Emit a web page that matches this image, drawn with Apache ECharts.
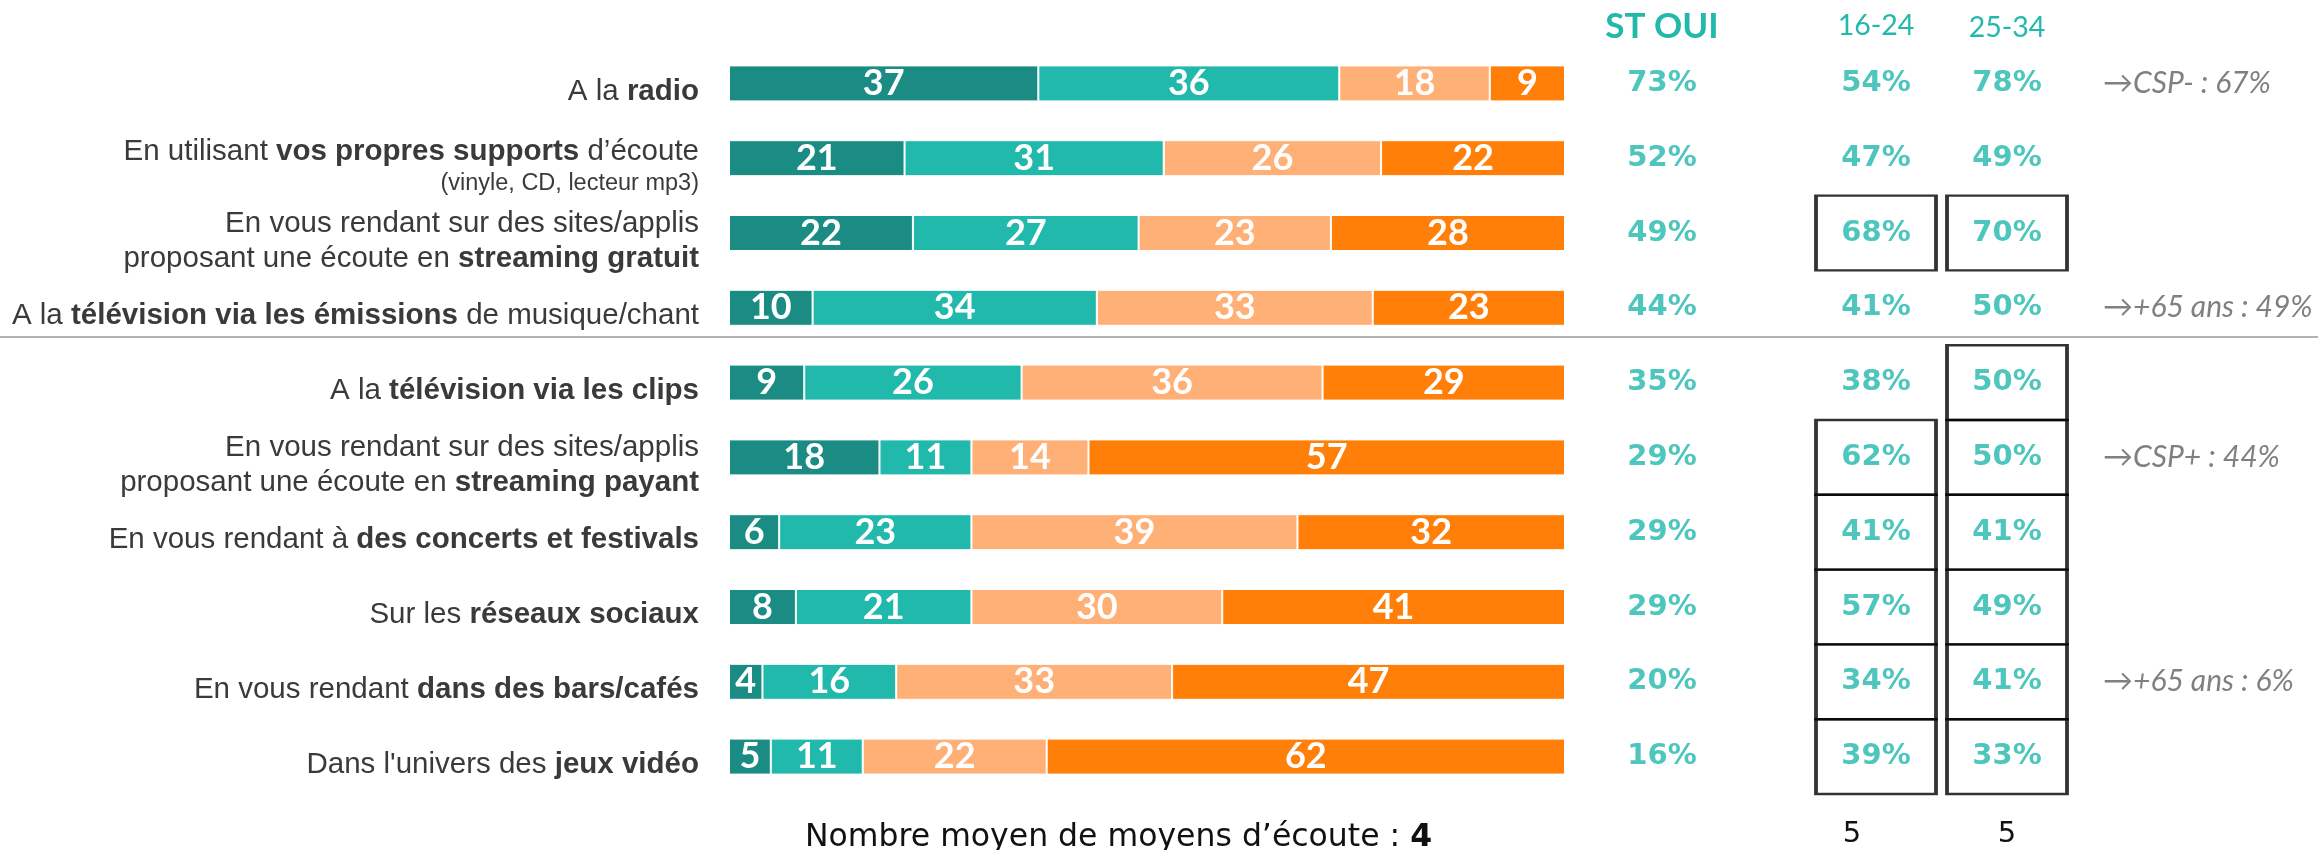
<!DOCTYPE html>
<html><head><meta charset="utf-8">
<script src="https://cdn.jsdelivr.net/npm/echarts@6/dist/echarts.min.js"></script>
<style>html,body{margin:0;padding:0;background:#fff}#c{width:2318px;height:850px}</style>
</head><body><div id="c"></div>
<script>
const categories = [
  'A la radio',
  'En utilisant vos propres supports d’écoute\n(vinyle, CD, lecteur mp3)',
  'En vous rendant sur des sites/applis\nproposant une écoute en streaming gratuit',
  'A la télévision via les émissions de musique/chant',
  'A la télévision via les clips',
  'En vous rendant sur des sites/applis\nproposant une écoute en streaming payant',
  'En vous rendant à des concerts et festivals',
  'Sur les réseaux sociaux',
  'En vous rendant dans des bars/cafés',
  "Dans l'univers des jeux vidéo"
];
const boldParts = ['radio','vos propres supports','streaming gratuit','télévision via les émissions','télévision via les clips','streaming payant','des concerts et festivals','réseaux sociaux','dans des bars/cafés','jeux vidéo'];
const oftenValues     = [37,21,22,10, 9,18, 6, 8, 4, 5];
const sometimesValues = [36,31,27,34,26,11,23,21,16,11];
const rarelyValues    = [18,26,23,33,36,14,39,30,33,22];
const neverValues     = [ 9,22,28,23,29,57,32,41,47,62];
const stOui   = [73,52,49,44,35,29,29,29,20,16];
const age1624 = [54,47,68,41,38,62,41,57,34,39];
const age2534 = [78,49,70,50,50,50,41,49,41,33];
const boxed1624 = [0,0,1,0,0,1,1,1,1,1];
const boxed2534 = [0,0,1,0,1,1,1,1,1,1];
const notes = ['→CSP- : 67%','','','→+65 ans : 49%','','→CSP+ : 44%','','','→+65 ans : 6%',''];
const columnHeaders = ['ST OUI','16-24','25-34'];
const meanTotal = 4;
const mean1624 = 5;
const mean2534 = 5;

const TEAL = '#22b8ac';
const colors = ['#1a8c83','#22b9ad','#ffb077','#ff7f08'];
const GRID_TOP = 46, GRID_H = 748;

function richLabel(i){
  return categories[i].split('\n').map(line => {
    if (line.startsWith('(')) return '{s|' + line + '}';
    const b = boldParts[i];
    const k = line.indexOf(b);
    if (k < 0) return '{n|' + line + '}';
    let out = '';
    if (k > 0) out += '{n|' + line.slice(0, k) + '}';
    out += '{b|' + b + '}';
    const rest = line.slice(k + b.length);
    if (rest) out += '{n|' + rest + '}';
    return out;
  }).join('\n');
}

const barSeries = [oftenValues, sometimesValues, rarelyValues, neverValues].map((d, k) => ({
  type: 'bar', stack: 'total', xAxisIndex: 0, yAxisIndex: 0, barWidth: 36,
  data: d,
  itemStyle: {color: colors[k], borderColor: '#fff', borderWidth: 1},
  label: {show: true, position: 'inside', color: '#fff', fontFamily: 'Lato', fontWeight: 'bold', fontSize: 36},
  emphasis: {disabled: true}
}));

function colSeries(vals, boxed, xi) {
  return {
    type: 'scatter', xAxisIndex: xi, yAxisIndex: xi, symbol: 'rect', symbolSize: [120, 74.8],
    data: vals.map((v, i) => ({
      value: [0, i],
      itemStyle: {color: 'rgba(0,0,0,0)', borderColor: boxed && boxed[i] ? '#000' : 'rgba(0,0,0,0)', borderWidth: 3}
    })),
    label: {show: true, position: 'inside', formatter: p => vals[p.dataIndex] + '%', color: TEAL,
      fontFamily: 'DejaVu Sans', fontWeight: 'bold', fontSize: 29},
    emphasis: {disabled: true}, z: 3
  };
}

const hiddenAxis = {axisLine: {show: false}, axisTick: {show: false}, splitLine: {show: false}};

const option = {
  animation: false,
  backgroundColor: '#fff',
  title: {
    text: '{a|Nombre moyen de moyens d’écoute : }{b|' + meanTotal + '}',
    left: 800, top: 817,
    textStyle: {rich: {
      a: {fontFamily: 'DejaVu Sans', fontSize: 31.5, color: '#111', fontWeight: 'normal'},
      b: {fontFamily: 'DejaVu Sans', fontSize: 31.5, color: '#111', fontWeight: 'bold'}
    }}
  },
  graphic: [{type: 'line', shape: {x1: 0, y1: 337, x2: 2318, y2: 337}, style: {stroke: '#9a9a9a', lineWidth: 1.5}}],
  grid: [
    {left: 729, width: 836, top: GRID_TOP, height: GRID_H},
    {left: 1602, width: 120, top: GRID_TOP, height: GRID_H},
    {left: 1816, width: 120, top: GRID_TOP, height: GRID_H},
    {left: 1947, width: 120, top: GRID_TOP, height: GRID_H}
  ],
  xAxis: [
    {type: 'value', gridIndex: 0, min: 0, max: 100, show: false},
    Object.assign({type: 'category', gridIndex: 1, position: 'top', data: [columnHeaders[0]],
      axisLabel: {margin: 2, color: TEAL, fontFamily: 'Lato', fontWeight: 'bold', fontSize: 35}}, hiddenAxis),
    Object.assign({type: 'category', gridIndex: 2, position: 'top', data: [columnHeaders[1]],
      axisLabel: {margin: 6, color: TEAL, fontFamily: 'Lato', fontSize: 28.5}}, hiddenAxis),
    Object.assign({type: 'category', gridIndex: 3, position: 'top', data: [columnHeaders[2]],
      axisLabel: {margin: 4, color: TEAL, fontFamily: 'Lato', fontSize: 28.5}}, hiddenAxis),
    Object.assign({type: 'category', gridIndex: 2, position: 'bottom', data: [String(mean1624)],
      axisLabel: {margin: 26, color: '#111', fontFamily: 'DejaVu Sans', fontSize: 29, padding: [0, 48, 0, 0]}}, hiddenAxis),
    Object.assign({type: 'category', gridIndex: 3, position: 'bottom', data: [String(mean2534)],
      axisLabel: {margin: 26, color: '#111', fontFamily: 'DejaVu Sans', fontSize: 29}}, hiddenAxis)
  ],
  yAxis: [
    Object.assign({type: 'category', gridIndex: 0, inverse: true, data: categories,
      axisLabel: {margin: 30, formatter: (v, i) => richLabel(i), padding: [16, 0, 0, 0],
        rich: {
          n: {fontFamily: 'Liberation Sans', fontSize: 29.5, color: '#3a3a3a', lineHeight: 35, align: 'right'},
          b: {fontFamily: 'Liberation Sans', fontSize: 29.5, color: '#3a3a3a', fontWeight: 'bold', lineHeight: 35, align: 'right'},
          s: {fontFamily: 'Liberation Sans', fontSize: 23.5, color: '#3a3a3a', lineHeight: 28, align: 'right'}
        }}}, hiddenAxis),
    {type: 'category', gridIndex: 1, inverse: true, data: categories, show: false},
    {type: 'category', gridIndex: 2, inverse: true, data: categories, show: false},
    Object.assign({type: 'category', gridIndex: 3, inverse: true, data: categories, position: 'right',
      axisLabel: {margin: 36, formatter: (v, i) => notes[i], color: '#808080', fontFamily: 'Lato', fontStyle: 'italic', fontSize: 30}}, hiddenAxis)
  ],
  series: barSeries.concat([
    colSeries(stOui, null, 1),
    colSeries(age1624, boxed1624, 2),
    colSeries(age2534, boxed2534, 3)
  ])
};
echarts.init(document.getElementById('c')).setOption(option);
</script></body></html>
